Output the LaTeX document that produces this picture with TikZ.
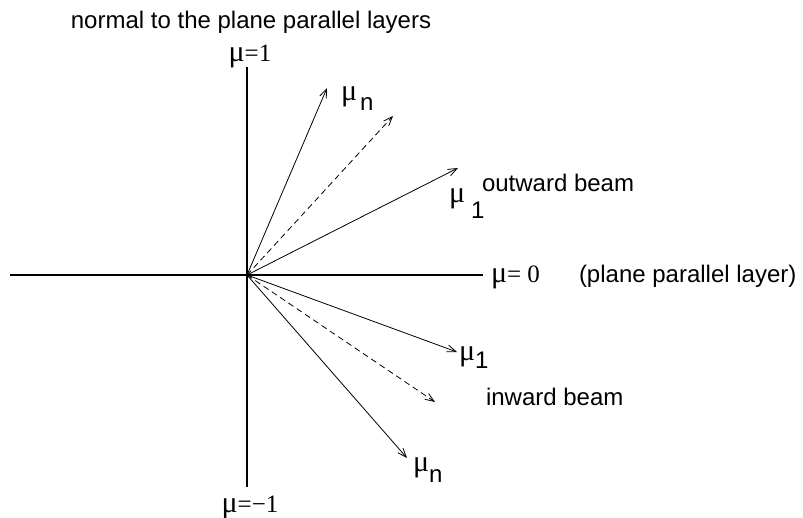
\documentclass[tikz,border=0pt]{standalone}
\usepackage{fontspec}
\setmainfont{Liberation Sans}
\newfontfamily\mufont{Liberation Serif}
\newcommand{\bigmu}{{\mufont\fontsize{30}{30}\selectfont μ}}
\usetikzlibrary{arrows.meta}

\begin{document}
\begin{tikzpicture}[x=1pt,y=-1pt,every node/.style={inner sep=0pt, outer sep=0pt, font=\fontsize{24}{28}\selectfont},
  axis/.style={line width=1.3pt},
  mulabel/.style={font=\mufont\fontsize{25}{28}\selectfont},
  beam/.style={line width=0.8pt,-{Straight Barb[length=9pt,width=7pt]}},
  halfbeam/.style={beam,dash pattern=on 6pt off 4pt}]
\useasboundingbox (0,0) rectangle (803,517);

\coordinate (o) at (247,275);
\coordinate (top) at (247,67);
\coordinate (bot) at (247,487);
\coordinate (left) at (10,275);
\coordinate (right) at (483,275);
\coordinate (out n) at (327,88);
\coordinate (out m) at (393,116);
\coordinate (out 1) at (458,168);
\coordinate (in 1) at (457,352);
\coordinate (in m) at (435,402);
\coordinate (in n) at (407,458);

\draw[axis] (top) -- (bot);
\draw[axis] (left) -- (right);
\draw[beam] (o) -- (out n);
\draw[halfbeam] (o) -- (out m);
\draw[beam] (o) -- (out 1);
\draw[beam] (o) -- (in 1);
\draw[halfbeam] (o) -- (in m);
\draw[beam] (o) -- (in n);

\node[anchor=base] (title) at (251,28) {normal to the plane parallel layers};
\node[anchor=base,mulabel] (mu top) at (250,61) {{\fontsize{30}{30}\selectfont μ}=1};
\node[anchor=base west,mulabel] (mu zero) at (491,282) {{\fontsize{30}{30}\selectfont μ}= 0};
\node[anchor=base west] (layer) at (579,282) {(plane parallel layer)};
\node[anchor=base,mulabel] (mu bot) at (250,512) {{\fontsize{30}{30}\selectfont μ}=−1};

\node[anchor=base west] (mu out n) at (341,100) {\bigmu\hspace{3pt}\raisebox{-10pt}{n}};
\node[anchor=base west] (mu out 1) at (449,202) {\bigmu\hspace{6pt}\raisebox{-16pt}{1}};
\node[anchor=base west] (outward) at (482,191) {outward beam};
\node[anchor=base west] (mu in 1) at (459,360) {\bigmu\raisebox{-8pt}{1}};
\node[anchor=base west] (inward) at (486,405) {inward beam};
\node[anchor=base west] (mu in n) at (413,471) {\bigmu\raisebox{-11pt}{n}};
\end{tikzpicture}
\end{document}
